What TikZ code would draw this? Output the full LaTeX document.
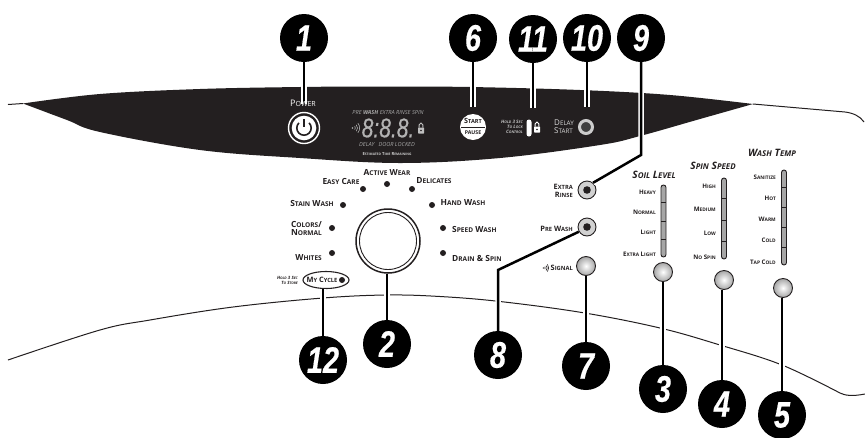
\documentclass[tikz,border=0pt]{standalone}
\usepackage{fontspec}
\setmainfont{Open Sans}
\newfontfamily\numfont[FakeStretch=0.78,FakeBold=0.4]{Liberation Sans}
\usetikzlibrary{calc, shapes.geometric}
\definecolor{panelblack}{HTML}{231F20}

\makeatletter
\newcommand{\sct}[2]{#1{\fontsize{\fpeval{0.78*\f@size}}{\f@baselineskip}\selectfont #2}}
\makeatother
\newcommand{\outlined}[1]{\special{pdf:code 1 Tr 0.5 w}#1\special{pdf:code 0 Tr}}

\tikzset{
  callout/.style={circle, fill=black, text=white, minimum size=48, inner sep=0pt, font=\numfont\fontsize{37}{37}\selectfont\bfseries\itshape},
  lead/.style={line width=2.5pt, line join=miter, preaction={draw, white, line width=5.5pt}},
  dialdot/.style={circle, fill=panelblack, minimum size=6, inner sep=0pt},
  ball/.style={circle, draw=panelblack, line width=0.9pt, minimum size=19, inner sep=0pt, inner color=white, outer color=black!35},
  optbtn/.style={circle, draw=panelblack, line width=0.9pt, fill=black!18, minimum size=18, inner sep=0pt},
  dial/.style={inner sep=0pt, text=panelblack, font=\fontsize{8.4}{8}\selectfont\bfseries, align=center},
  levellab/.style={inner sep=0pt, text=panelblack, font=\fontsize{6.2}{6}\selectfont\bfseries, anchor=east},
  headlab/.style={inner sep=0pt, text=panelblack, font=\fontsize{10.2}{10}\selectfont\bfseries\itshape},
  lcd/.style={inner sep=0pt, text=black!35, font=\fontsize{5.6}{5}\selectfont\itshape},
  speaker/.pic={
    \fill (-3.5,0) circle (0.9);
    \draw[line width=0.6pt] (-1.3,-1.7) arc (-40:40:2.6) (0.3,-3.2) arc (-40:40:5) (1.9,-4.8) arc (-40:40:7.4);
  },
  padlock/.pic={
    \fill[rounded corners=0.5] (-3,-0.5) rectangle (3,5.5);
    \draw[line width=1pt] (-1.8,-0.5) -- (-1.8,-3.2) arc (180:360:1.8) -- (1.8,-0.5);
    \fill[panelblack] (0,2.5) circle (0.9);
  }
}

\begin{document}
\begin{tikzpicture}[x=1pt, y=-1pt]
  \useasboundingbox (0,0) rectangle (865,437);

  \fill[panelblack] plot[smooth, tension=0.6] coordinates {(23,103.5) (100,94) (200,89) (300,87) (380,86.5) (470,87) (580,90) (670,95) (753,104)}
    -- plot[smooth, tension=0.6] coordinates {(753,104) (700,119) (640,136) (600,145) (500,158) (400,163) (300,158) (200,150) (100,132) (67,120) (23,103.5)} -- cycle;
  \draw[panelblack, line width=1pt] (8,104.5) -- (23,103.5);
  \draw[panelblack, line width=1pt] (753,104) -- (845,112) .. controls (853,113) and (860,116) .. (864,122);
  \draw[panelblack, line width=1pt] plot[smooth, tension=0.6] coordinates {(8,360) (100,330) (150,320) (233,307) (323,298) (387,295) (440,296.5) (500,301.5) (583,312.7) (660,328) (720,345) (782,365) (840,393)}
    .. controls (845,395.5) and (852,396.5) .. (865,394);

  % numbers
  \foreach \num/\xx/\yy in {1/304/38, 2/387/344, 3/663/389, 4/722/404, 5/782/415, 6/473/38, 7/586/366, 8/498/355, 9/641/38, 10/587/38, 11/533/39, 12/323/360}
    \node[callout] (n\num) at (\xx,\yy) {\num};

  % controls
  \node[circle, draw=white, line width=1.4pt, minimum size=31, inner sep=0pt] (powerbtn) at (304,128) {};
  \fill[white] (powerbtn) circle (12.3);
  \draw[panelblack, line width=1.6pt] (298.9,122.9) arc (-135:-405:7.2);
  \draw[panelblack, line width=1.6pt] (304,119) -- (304,127);
  \node[circle, fill=white, minimum size=26, inner sep=0pt] (startbtn) at (473,127) {};
  \draw[panelblack, line width=0.7pt] (461,127) -- (485,127);
  \node[rounded corners=2.5, fill=white, minimum width=5, minimum height=17, inner sep=0pt] (lockpill) at (529,128) {};
  \node[circle, draw=black!20, line width=3pt, fill=black!75, minimum size=13, inner sep=0pt] (delaybtn) at (586,127) {};

  \node[circle, draw=panelblack, line width=1.5pt, minimum size=64, inner sep=0pt] (knob) at (388,241) {};
  \draw[panelblack, line width=0.9pt] (knob) circle (28.5);
  \node[ellipse, draw=panelblack, line width=1.1pt, minimum width=46, minimum height=17, inner sep=0pt] (mycycle) at (326,280) {};

  \node[optbtn] (extrarinse) at (587,190) {};
  \node[optbtn] (prewash) at (587,227) {};
  \fill[panelblack] (extrarinse) circle (3.8) (prewash) circle (3.8);
  \node[ball] (signal) at (586,266) {};
  \node[ball] (soilbtn) at (663,272) {};
  \node[ball] (spinbtn) at (724,280) {};
  \node[ball] (tempbtn) at (783,288) {};

  % sliders
  \foreach \xx/\ya/\yb/\ticks in {663.5/185/257/{202,221,239}, 724/178/259/{198,220,241}, 784/170/265/{187,207,227,247}} {
    \draw[panelblack, fill=black!35, line width=0.9pt, rounded corners=2.5] (\xx-2.5,\ya) rectangle (\xx+2.5,\yb);
    \foreach \yy in \ticks
      \draw[panelblack, line width=0.7pt] (\xx-2.5,\yy) -- (\xx+2.5,\yy);
  }

  % leads
  \coordinate (bend9) at (641,155);
  \coordinate (bend8) at (498,270);
  \draw[lead, shorten >=8pt] (n1) -- (n1|-powerbtn.north);
  \draw[lead, shorten >=7pt] (n6) -- (n6|-startbtn.north);
  \draw[lead, shorten >=11pt] (n11) -- (n11|-lockpill.north);
  \draw[lead, shorten >=12pt] (n10) -- (n10|-delaybtn.north);
  \draw[lead] (n9) -- (bend9) -- (extrarinse.50);
  \draw[lead] (prewash.210) -- (bend8) -- (n8);
  \draw[lead] (signal) -- (n7);
  \draw[lead] (soilbtn) -- (n3);
  \draw[lead] (n4|-spinbtn.south) -- (n4);
  \draw[lead] (n5|-tempbtn.south) -- (n5);
  \draw[lead] (n2|-knob.south) -- (n2);
  \draw[lead] (n12|-mycycle.south) -- (n12);

  % panel text
  \node[inner sep=0pt, text=white, font=\fontsize{9}{9}\selectfont] (powerlab) at (303,103) {\sct{P}{OWER}};
  \node[lcd] (lcdtop) at (388,112) {PRE \textbf{WASH} EXTRA RINSE SPIN};
  \node[lcd, text=black!30, font=\numfont\fontsize{27}{27}\selectfont\itshape] (digits) at (388,128) {\outlined{8:8.8.}};
  \node[lcd] (lcdbot) at (387,144) {DELAY\hspace{4pt}DOOR LOCKED};
  \node[lcd, text=black!20, font=\fontsize{4.2}{4}\selectfont\bfseries\upshape] (remain) at (387,154) {\sct{E}{STIMATED} \sct{T}{IME} \sct{R}{EMAINING}};
  \pic[black!30] at (356,128) {speaker};
  \pic[black!25] at (421,128) {padlock};
  \pic[white] at (537,127) {padlock};
  \node[inner sep=0pt, text=panelblack, font=\fontsize{7.2}{7}\selectfont\bfseries] (starttxt) at (473,120.5) {\sct{S}{TART}};
  \node[inner sep=0pt, text=panelblack, font=\fontsize{5.2}{5}\selectfont\bfseries] (pausetxt) at (473,133) {PAUSE};
  \node[inner sep=0pt, anchor=east, align=right, text=black!25, font=\fontsize{4.6}{5.2}\selectfont\bfseries\itshape] (holdlock) at (523,127) {\sct{H}{OLD} 3 \sct{S}{EC}\\\sct{T}{O} \sct{L}{OCK}\\\sct{C}{ONTROL}};
  \node[inner sep=0pt, anchor=west, align=left, text=black!15, font=\fontsize{8}{8}\selectfont] (delaytxt) at (554,127) {\sct{D}{ELAY}\\\sct{S}{TART}};

  % dial text
  \node[dial] (easycare) at (341,181) {\sct{E}{ASY} \sct{C}{ARE}};
  \node[dial] (activewear) at (387,173) {\sct{A}{CTIVE} \sct{W}{EAR}};
  \node[dial] (delicates) at (434,181) {\sct{D}{ELICATES}};
  \node[dial] (stainwash) at (312,203) {\sct{S}{TAIN} \sct{W}{ASH}};
  \node[dial] (handwash) at (463,203) {\sct{H}{AND} \sct{W}{ASH}};
  \node[dial, anchor=east, align=right, font=\fontsize{8.4}{8}\selectfont\bfseries] (colors) at (322,228) {\sct{C}{OLORS}/\\\sct{N}{ORMAL}};
  \node[dial, anchor=west] (speedwash) at (452,229) {\sct{S}{PEED} \sct{W}{ASH}};
  \node[dial, anchor=east] (whites) at (322,258) {\sct{W}{HITES}};
  \node[dial, anchor=west] (drainspin) at (452,258) {\sct{D}{RAIN} \& \sct{S}{PIN}};
  \foreach \dotname/\xx/\yy in {dota/363/189, dotb/387/184, dotc/412/189, dotd/343/205, dote/432/205, dotf/332/228, dotg/443/228, doth/332/253, doti/443/253, dotj/342/280}
    \node[dialdot] (\dotname) at (\xx,\yy) {};
  \node[inner sep=0pt, text=panelblack, font=\fontsize{7.4}{7}\selectfont\bfseries] (mycycletxt) at (322,280) {\sct{M}{Y} \sct{C}{YCLE}};
  \node[inner sep=0pt, anchor=east, align=right, text=panelblack, font=\fontsize{4.4}{5}\selectfont\bfseries\itshape] (holdstore) at (298,280.5) {\sct{H}{OLD} 3 \sct{S}{EC}\\\sct{T}{O} \sct{S}{TORE}};

  % button text
  \node[dial, anchor=east, align=right, font=\fontsize{7.4}{8}\selectfont\bfseries] (rinsetxt) at (573,191) {\sct{E}{XTRA}\\\sct{R}{INSE}};
  \node[dial, anchor=east, font=\fontsize{7.4}{8}\selectfont\bfseries] (prewashtxt) at (573,229) {\sct{P}{RE} \sct{W}{ASH}};
  \node[dial, anchor=east, font=\fontsize{7.4}{8}\selectfont\bfseries] (signaltxt) at (573,268) {\sct{S}{IGNAL}};
  \pic[panelblack, scale=0.75] at (546,268) {speaker};

  \node[headlab] (soiltitle) at (654,175) {\sct{S}{OIL} \sct{L}{EVEL}};
  \node[headlab] (spintitle) at (713,166) {\sct{S}{PIN} \sct{S}{PEED}};
  \node[headlab] (temptitle) at (772,153) {\sct{W}{ASH} \sct{T}{EMP}};
  \foreach \labname/\xx/\yy/\labtxt in {
    heavy/656/192/{\sct{H}{EAVY}}, normal/656/212/{\sct{N}{ORMAL}}, light/656/232/{\sct{L}{IGHT}}, xlight/656/254/{\sct{E}{XTRA} \sct{L}{IGHT}},
    high/716/186/{\sct{H}{IGH}}, medium/716/209/{\sct{M}{EDIUM}}, low/716/233/{\sct{L}{OW}}, nospin/716/257/{\sct{N}{O} \sct{S}{PIN}},
    sanitize/776/177/{\sct{S}{ANITIZE}}, hot/776/198/{\sct{H}{OT}}, warm/776/219/{\sct{W}{ARM}}, cold/776/240/{\sct{C}{OLD}}, tapcold/776/262/{\sct{T}{AP} \sct{C}{OLD}}}
    \node[levellab] (\labname) at (\xx,\yy) {\labtxt};
\end{tikzpicture}
\end{document}
